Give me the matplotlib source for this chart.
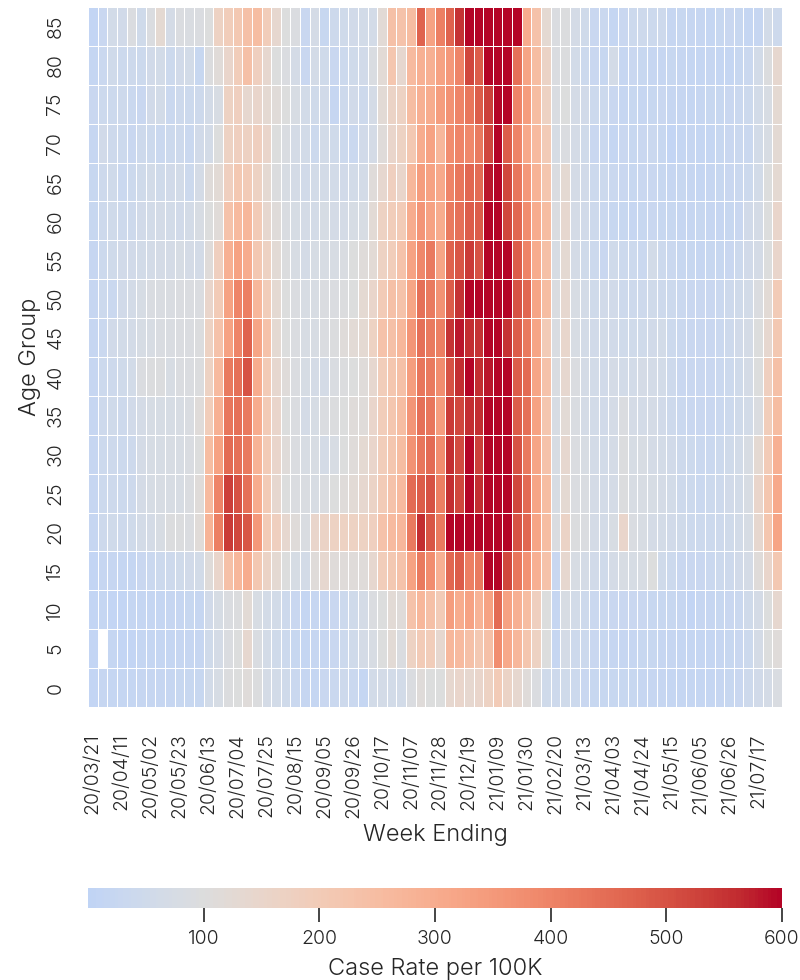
import numpy as np
import pandas as pd
import matplotlib
matplotlib.use('Agg')
import matplotlib.pyplot as plt
import seaborn as sns

# Weekly case rate per 100K by age group (rows top to bottom: 85 ... 0)
ages = [85, 80, 75, 70, 65, 60, 55, 50, 45, 40, 35, 30, 25, 20, 15, 10, 5, 0]
weeks = pd.date_range('2020-03-21', periods=72, freq='7D').strftime('%y/%m/%d')

age_85 = [10, 30, 60, 55, 90, 50, 90, 130, 70, 90, 85, 90, 100, 170, 190, 210, 240, 250, 190, 140, 100, 90, 30, 70,
          25, 45, 50, 55, 60, 65, 120, 240, 230, 250, 470, 330, 410, 470, 550, 600, 600, 600, 600, 600, 600, 300, 230, 130,
          90, 95, 70, 50, 30, 35, 15, 30, 40, 45, 40, 45, 20, 25, 20, 20, 15, 25, 30, 25, 15, 20, 60, 45]
age_80 = [15, 35, 50, 40, 45, 40, 55, 60, 40, 55, 60, 25, 95, 115, 150, 190, 240, 180, 140, 100, 90, 70, 30, 65,
          50, 30, 40, 50, 55, 85, 120, 220, 140, 260, 290, 290, 330, 350, 400, 520, 480, 600, 600, 600, 440, 320, 250, 160,
          90, 95, 60, 40, 30, 25, 65, 20, 30, 25, 20, 20, 25, 20, 15, 15, 20, 15, 15, 25, 35, 60, 95, 140]
age_75 = [30, 40, 40, 45, 35, 30, 55, 60, 35, 45, 40, 45, 65, 80, 170, 180, 140, 150, 130, 115, 100, 80, 60, 50,
          55, 20, 45, 55, 45, 70, 120, 160, 170, 250, 290, 300, 340, 370, 400, 430, 480, 530, 600, 600, 400, 340, 250, 170,
          85, 100, 70, 55, 40, 40, 30, 20, 25, 20, 25, 30, 20, 20, 15, 20, 25, 25, 30, 35, 40, 60, 80, 130]
age_70 = [20, 55, 45, 40, 30, 45, 40, 35, 40, 45, 35, 55, 65, 100, 170, 180, 175, 180, 150, 100, 85, 70, 60, 40,
          60, 50, 40, 35, 55, 70, 110, 150, 170, 210, 300, 330, 270, 380, 400, 390, 420, 520, 600, 480, 400, 310, 260, 200,
          75, 90, 70, 50, 30, 35, 15, 30, 25, 30, 35, 25, 10, 15, 20, 15, 15, 25, 30, 35, 35, 60, 80, 125]
age_65 = [25, 45, 50, 35, 40, 50, 60, 50, 55, 60, 40, 70, 110, 120, 180, 210, 200, 170, 130, 95, 80, 70, 55, 60,
          65, 60, 55, 60, 65, 110, 140, 180, 150, 270, 340, 330, 310, 400, 430, 460, 450, 580, 600, 520, 430, 350, 280, 220,
          90, 130, 70, 55, 40, 40, 35, 30, 25, 30, 30, 25, 20, 25, 20, 15, 20, 25, 30, 35, 40, 60, 100, 130]
age_60 = [25, 45, 50, 45, 45, 55, 60, 65, 60, 55, 65, 80, 100, 115, 230, 260, 270, 200, 140, 110, 85, 75, 70, 65,
          75, 70, 70, 75, 80, 120, 170, 190, 200, 300, 360, 330, 300, 420, 440, 480, 480, 600, 600, 520, 460, 380, 300, 250,
          90, 140, 70, 55, 45, 35, 25, 25, 20, 25, 30, 25, 25, 20, 20, 25, 20, 20, 25, 30, 55, 70, 100, 150]
age_55 = [20, 40, 50, 55, 55, 60, 65, 70, 70, 75, 70, 65, 110, 180, 290, 330, 300, 210, 170, 120, 95, 80, 70, 75,
          80, 80, 85, 100, 110, 120, 170, 190, 230, 330, 390, 420, 320, 470, 490, 540, 500, 600, 600, 600, 480, 400, 300, 240,
          80, 130, 70, 50, 40, 30, 50, 40, 40, 35, 60, 40, 35, 25, 25, 20, 25, 25, 30, 40, 55, 70, 100, 150]
age_50 = [20, 40, 35, 55, 65, 75, 85, 85, 85, 90, 90, 90, 150, 200, 330, 400, 410, 270, 190, 130, 100, 90, 80, 80,
          90, 90, 95, 100, 130, 150, 200, 240, 230, 320, 440, 420, 370, 480, 550, 600, 600, 600, 600, 600, 500, 460, 320, 250,
          90, 140, 80, 65, 50, 55, 55, 45, 45, 45, 50, 45, 40, 35, 30, 30, 30, 35, 45, 50, 60, 90, 120, 200]
age_45 = [20, 35, 55, 60, 65, 75, 80, 85, 85, 90, 90, 95, 170, 230, 330, 400, 470, 320, 230, 130, 100, 90, 80, 80,
          90, 95, 110, 120, 130, 170, 230, 240, 270, 360, 440, 420, 410, 550, 580, 560, 550, 600, 600, 550, 480, 420, 320, 200,
          85, 145, 80, 65, 55, 60, 55, 50, 50, 50, 55, 60, 40, 35, 30, 30, 30, 35, 45, 55, 70, 100, 140, 210]
age_40 = [20, 40, 45, 50, 60, 90, 95, 95, 80, 90, 90, 95, 170, 260, 420, 440, 500, 300, 200, 140, 110, 90, 75, 70,
          70, 85, 95, 100, 110, 140, 190, 220, 240, 340, 430, 420, 380, 500, 560, 600, 560, 580, 600, 600, 480, 450, 320, 230,
          85, 140, 90, 70, 60, 55, 70, 60, 60, 70, 65, 60, 45, 30, 30, 30, 30, 35, 40, 50, 70, 100, 180, 240]
age_35 = [20, 45, 50, 45, 55, 70, 75, 75, 75, 80, 85, 110, 190, 290, 430, 440, 420, 300, 200, 150, 100, 90, 70, 75,
          90, 95, 100, 110, 110, 150, 190, 220, 250, 360, 440, 430, 340, 540, 520, 560, 560, 600, 600, 600, 480, 440, 330, 220,
          80, 120, 85, 70, 60, 55, 70, 90, 70, 65, 70, 55, 45, 35, 30, 30, 30, 35, 40, 50, 60, 90, 190, 250]
age_30 = [20, 40, 45, 40, 45, 70, 75, 75, 80, 80, 85, 100, 250, 330, 450, 440, 420, 280, 200, 150, 110, 90, 80, 80,
          70, 80, 100, 110, 130, 150, 190, 220, 250, 370, 430, 450, 380, 560, 510, 600, 530, 600, 600, 600, 500, 420, 320, 230,
          80, 140, 90, 80, 65, 60, 70, 95, 75, 80, 70, 65, 55, 45, 40, 35, 35, 40, 50, 60, 80, 130, 200, 290]
age_25 = [20, 40, 45, 40, 45, 70, 75, 80, 80, 80, 90, 110, 260, 400, 530, 500, 440, 300, 200, 140, 100, 90, 85, 80,
          90, 100, 110, 120, 140, 160, 200, 230, 260, 450, 480, 500, 410, 560, 520, 600, 560, 600, 600, 600, 520, 450, 320, 250,
          80, 130, 90, 85, 70, 65, 70, 95, 80, 80, 75, 70, 60, 45, 40, 35, 40, 45, 55, 60, 80, 150, 220, 310]
age_20 = [20, 45, 50, 45, 50, 65, 70, 80, 95, 95, 90, 115, 280, 410, 540, 520, 490, 350, 200, 180, 140, 110, 85, 150,
          160, 170, 170, 170, 170, 180, 230, 260, 270, 420, 560, 490, 420, 600, 600, 600, 600, 600, 600, 600, 500, 460, 320, 250,
          90, 160, 95, 90, 70, 65, 80, 150, 85, 80, 70, 65, 55, 50, 40, 40, 40, 45, 50, 60, 75, 140, 220, 320]
age_15 = [10, 20, 20, 15, 15, 30, 35, 40, 45, 50, 55, 60, 110, 150, 240, 270, 300, 210, 160, 130, 100, 75, 65, 110,
          140, 110, 110, 110, 110, 140, 190, 210, 230, 330, 420, 380, 290, 460, 480, 410, 420, 600, 600, 520, 430, 370, 290, 230,
          30, 140, 80, 70, 55, 50, 70, 80, 75, 80, 100, 50, 40, 30, 30, 30, 35, 40, 45, 55, 70, 110, 150, 210]
age_10 = [10, 15, 10, 10, 15, 15, 15, 15, 20, 20, 25, 20, 55, 75, 90, 95, 120, 80, 65, 60, 45, 30, 15, 20,
          20, 30, 40, 50, 70, 90, 100, 120, 110, 230, 270, 240, 200, 340, 300, 330, 280, 330, 450, 330, 290, 250, 180, 100,
          20, 80, 60, 45, 35, 35, 30, 30, 30, 30, 25, 25, 25, 20, 10, 20, 20, 25, 30, 35, 50, 70, 100, 140]
age_5 = [10, np.nan, 15, 10, 10, 15, 15, 15, 15, 20, 20, 20, 50, 70, 90, 100, 140, 85, 65, 50, 40, 25, 15, 20,
         20, 30, 40, 50, 70, 80, 100, 120, 90, 170, 200, 190, 140, 270, 260, 240, 210, 240, 380, 310, 270, 220, 170, 100,
         20, 70, 45, 40, 30, 25, 20, 20, 20, 25, 25, 20, 20, 15, 15, 15, 15, 20, 25, 30, 40, 70, 100, 110]
age_0 = [10, 20, 15, 15, 15, 20, 20, 20, 20, 25, 25, 25, 60, 75, 95, 100, 110, 95, 70, 60, 50, 35, 20, 15,
         30, 35, 45, 35, 15, 60, 65, 60, 60, 90, 110, 100, 100, 140, 150, 140, 150, 170, 200, 160, 140, 110, 90, 50,
         45, 50, 40, 30, 25, 25, 25, 25, 25, 20, 20, 20, 15, 15, 15, 15, 15, 20, 25, 30, 45, 55, 70, 85]

rates = pd.DataFrame([age_85, age_80, age_75, age_70, age_65, age_60, age_55, age_50, age_45,
                      age_40, age_35, age_30, age_25, age_20, age_15, age_10, age_5, age_0],
                     index=ages, columns=weeks)

text_col = '#262626'
plt.rcParams['font.family'] = ['Inter', 'DejaVu Sans']
plt.rcParams['font.weight'] = 300
plt.rcParams['text.color'] = text_col
plt.rcParams['axes.labelcolor'] = text_col
plt.rcParams['xtick.color'] = text_col
plt.rcParams['ytick.color'] = text_col

fig = plt.figure(figsize=(8, 9.8), dpi=100)
ax = fig.add_axes([0.11, 0.2786, 0.8675, 0.7143])
cax = fig.add_axes([0.11, 0.0735, 0.8675, 0.0204])

sns.heatmap(rates, ax=ax, cbar_ax=cax, cmap='coolwarm', center=100, vmin=0, vmax=600,
            linewidths=0.5, linecolor='white', xticklabels=3, yticklabels=1,
            cbar_kws={'orientation': 'horizontal', 'ticks': [100, 200, 300, 400, 500, 600]})

ax.set_xlabel('Week Ending', fontsize=17, fontweight=300, labelpad=4)
ax.set_ylabel('Age Group', fontsize=17, fontweight=300, labelpad=4)
ax.tick_params(axis='x', length=0, labelsize=14, pad=19)
ax.tick_params(axis='y', length=0, labelsize=14, pad=17)
plt.setp(ax.get_xticklabels(), rotation=90, fontweight=300)
plt.setp(ax.get_yticklabels(), rotation=90, va='center', fontweight=300)

cax.tick_params(length=10, width=1.2, labelsize=14, color=text_col, pad=6)
plt.setp(cax.get_xticklabels(), fontweight=300)
cax.set_xlabel('Case Rate per 100K', fontsize=17, fontweight=300, labelpad=7)
cax.xaxis.set_label_position('bottom')

fig.savefig('out.png', dpi=100)
